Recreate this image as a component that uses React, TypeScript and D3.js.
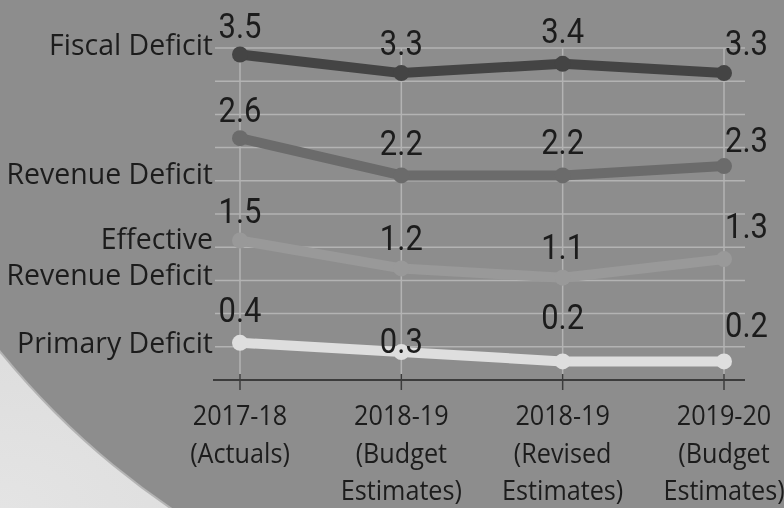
import React from "react";
import * as d3 from "d3";

const categories = ["2017-18", "2018-19 BE", "2018-19 RE", "2019-20 BE"];
const categoryLines = [
  ["2017-18", "(Actuals)"],
  ["2018-19", "(Budget", "Estimates)"],
  ["2018-19", "(Revised", "Estimates)"],
  ["2019-20", "(Budget", "Estimates)"],
];
const seriesNames = ["Fiscal Deficit", "Revenue Deficit", "Effective Revenue Deficit", "Primary Deficit"];
const seriesLabelLines = [["Fiscal Deficit"], ["Revenue Deficit"], ["Effective", "Revenue Deficit"], ["Primary Deficit"]];
const fiscalDeficit = [3.5, 3.3, 3.4, 3.3];
const revenueDeficit = [2.6, 2.2, 2.2, 2.3];
const effectiveRevenueDeficit = [1.5, 1.2, 1.1, 1.3];
const primaryDeficit = [0.4, 0.3, 0.2, 0.2];
const seriesValues = [fiscalDeficit, revenueDeficit, effectiveRevenueDeficit, primaryDeficit];

// layout / style (not data)
const W = 784;
const H = 508;
const seriesColors = ["#444444", "#6b6b6b", "#999999", "#dedede"];
const seriesLabelBaseline = [55, 184, 249, 353];
const valueLabelDy = [
  [-17, -18, -21, -18],
  [-16, -20, -21, -14],
  [-18, -18, -19, -21],
  [-21, 1, -32, -24],
];

export default function App() {
  const x = d3.scalePoint<string>().domain(categories).range([240, 724]);
  const yMax = 3.57;
  const y = d3.scaleLinear().domain([0, yMax]).range([380, 48]);
  const gridVals = d3.range(1, 11).map((i) => (yMax * i) / 10);
  const line = d3
    .line<number>()
    .x((_, i) => x(categories[i]) as number)
    .y((d) => y(d));

  const valueFont = "Roboto, 'DejaVu Sans', sans-serif";
  const labelFont = "'Open Sans', 'Noto Sans', sans-serif";
  const textColor = "#1c1c1c";

  return (
    <svg
      width={W}
      height={H}
      viewBox={`0 0 ${W} ${H}`}
      style={{ position: "fixed", left: 0, top: 0, display: "block" }}
    >
      <defs>
        <radialGradient id="lightGrad" cx="0" cy="1" r="1">
          <stop offset="0" stopColor="#e4e4e4" />
          <stop offset="1" stopColor="#cfcfcf" />
        </radialGradient>
      </defs>
      <rect x={0} y={0} width={W} height={H} fill="url(#lightGrad)" />
      <circle cx={624} cy={-157} r={806} fill="#b4b4b4" />
      <circle cx={624} cy={-157} r={804} fill="#8d8d8d" />

      {/* horizontal gridlines */}
      {gridVals.map((v, i) => (
        <line key={"g" + i} x1={215} x2={745} y1={y(v)} y2={y(v)} stroke="#b3b3b3" strokeWidth={1.5} />
      ))}
      {/* vertical gridlines */}
      {categories.map((c) => (
        <line key={"v" + c} x1={x(c)} x2={x(c)} y1={y(yMax)} y2={y(0)} stroke="#b3b3b3" strokeWidth={1.5} />
      ))}
      {/* x axis */}
      <line x1={213} x2={745} y1={y(0)} y2={y(0)} stroke="#3c3c3c" strokeWidth={2} />
      {categories.map((c) => (
        <line key={"t" + c} x1={x(c)} x2={x(c)} y1={y(0) - 6} y2={y(0) + 10} stroke="#3c3c3c" strokeWidth={1.5} />
      ))}

      {/* series lines and points */}
      {seriesValues.map((vals, s) => (
        <g key={"s" + s}>
          <path d={line(vals) || ""} fill="none" stroke={seriesColors[s]} strokeWidth={10} strokeLinejoin="round" />
          {vals.map((v, i) => (
            <circle key={i} cx={x(categories[i])} cy={y(v)} r={8} fill={seriesColors[s]} />
          ))}
        </g>
      ))}

      {/* value labels */}
      {seriesValues.map((vals, s) =>
        vals.map((v, i) => {
          const last = i === categories.length - 1;
          const px = x(categories[i]) as number;
          return (
            <text
              key={`l${s}-${i}`}
              transform={`translate(${last ? px + 1 : px},${y(v) + valueLabelDy[s][i]}) scale(0.86,1)`}
              textAnchor={last ? "start" : "middle"}
              fontFamily={valueFont}
              fontSize={36}
              fill={textColor}
            >
              {v.toFixed(1)}
            </text>
          );
        })
      )}

      {/* series labels */}
      {seriesLabelLines.map((lines, s) =>
        lines.map((t, j) => (
          <text
            key={`sl${s}-${j}`}
            transform={`translate(213,${seriesLabelBaseline[s] + (j - (lines.length - 1)) * 36 + (lines.length > 1 ? 36 : 0)}) scale(0.95,1)`}
            textAnchor="end"
            fontFamily={labelFont}
            fontSize={30}
            fill={textColor}
          >
            {t}
          </text>
        ))
      )}

      {/* category labels */}
      {categoryLines.map((lines, i) =>
        lines.map((t, j) => (
          <text
            key={`c${i}-${j}`}
            transform={`translate(${x(categories[i])},${425 + j * 37.5}) scale(0.9,1)`}
            textAnchor="middle"
            fontFamily={labelFont}
            fontSize={28}
            fill={textColor}
          >
            {t}
          </text>
        ))
      )}
    </svg>
  );
}
